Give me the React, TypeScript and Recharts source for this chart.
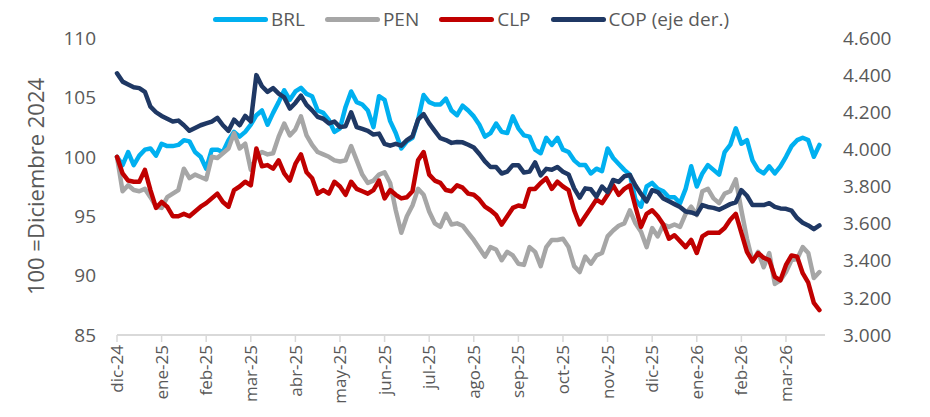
import React from "react";
import { LineChart, Line, XAxis, YAxis, Legend } from "recharts";

const months = [
  "dic-24", "ene-25", "feb-25", "mar-25", "abr-25", "may-25", "jun-25", "jul-25",
  "ago-25", "sep-25", "oct-25", "nov-25", "dic-25", "ene-26", "feb-26", "mar-26",
];

// ~8 observaciones por mes (índice 0 = inicio dic-24)
const brl = [
  100.0, 99.3, 100.4, 99.3, 100.1, 100.6, 100.7, 100.1, 101.1, 100.9, 100.9, 101.0, 101.4, 101.3, 100.4, 100.0,
  99.0, 100.6, 100.6, 100.4, 101.4, 102.1, 101.7, 102.1, 102.7, 103.5, 103.9, 102.7, 103.7, 104.6, 105.6, 104.8,
  105.5, 105.8, 105.3, 105.1, 103.9, 103.7, 103.1, 102.1, 102.4, 104.2, 105.5, 104.6, 104.4, 103.9, 102.5, 105.1,
  104.8, 103.0, 102.0, 100.7, 101.3, 101.6, 103.1, 105.2, 104.6, 104.4, 104.4, 104.9, 103.9, 103.5, 104.3, 103.9,
  103.4, 102.7, 101.7, 102.0, 102.8, 102.1, 102.0, 103.4, 102.4, 101.8, 101.7, 100.6, 100.3, 101.6, 101.0, 101.6,
  100.6, 100.4, 99.7, 99.3, 99.3, 98.6, 99.0, 98.8, 100.7, 99.9, 99.4, 98.9, 98.5, 96.4, 95.8, 97.5,
  97.8, 97.3, 97.1, 96.6, 96.6, 96.1, 97.3, 99.2, 97.5, 98.6, 99.3, 98.9, 98.5, 100.4, 101.0, 102.4,
  101.1, 101.4, 99.7, 98.9, 98.6, 99.2, 98.6, 99.2, 100.0, 100.9, 101.4, 101.6, 101.4, 100.0, 101.0,
];

const pen = [
  100.0, 97.1, 97.6, 97.2, 97.1, 97.3, 96.6, 95.8, 95.7, 96.6, 96.9, 97.2, 99.0, 98.2, 98.5, 98.3,
  98.1, 100.0, 99.9, 100.3, 100.7, 102.0, 100.7, 101.1, 98.9, 100.0, 100.4, 100.2, 100.3, 101.7, 102.8, 101.8,
  102.3, 103.4, 101.8, 101.0, 100.4, 100.2, 100.0, 99.7, 99.6, 99.7, 100.9, 99.7, 98.5, 97.8, 98.0, 98.5,
  98.7, 97.8, 95.5, 93.6, 95.0, 95.9, 97.3, 96.8, 95.4, 94.4, 94.1, 95.2, 94.3, 94.4, 94.2, 93.6,
  93.0, 92.3, 91.6, 92.4, 92.2, 91.3, 92.0, 91.7, 91.0, 90.9, 92.4, 92.0, 90.8, 92.4, 93.0, 93.0,
  93.1, 92.4, 90.8, 90.3, 91.6, 91.0, 91.7, 91.9, 93.3, 93.8, 94.2, 94.4, 95.5, 94.4, 93.7, 92.4,
  94.0, 93.3, 94.3, 94.1, 94.3, 94.1, 95.2, 95.8, 95.1, 97.1, 97.3, 96.5, 96.1, 96.9, 97.1, 98.1,
  95.5, 93.1, 91.2, 92.0, 90.7, 91.9, 89.3, 89.6, 90.3, 91.3, 91.4, 92.4, 91.9, 89.8, 90.3,
];

const clp = [
  100.0, 98.6, 98.0, 97.9, 97.9, 98.9, 97.2, 95.7, 96.2, 95.8, 95.0, 95.0, 95.2, 95.0, 95.4, 95.8,
  96.1, 96.5, 96.9, 96.2, 95.8, 97.2, 97.5, 97.9, 97.6, 100.7, 99.2, 99.3, 99.0, 99.7, 98.6, 98.0,
  99.4, 100.2, 98.7, 98.2, 96.9, 97.2, 96.9, 97.9, 97.5, 96.8, 97.9, 97.3, 97.1, 96.9, 97.2, 98.0,
  96.5, 97.2, 96.8, 96.5, 96.6, 97.1, 99.7, 100.4, 98.5, 98.0, 97.8, 97.2, 97.1, 97.6, 97.4, 96.9,
  96.8, 96.4, 95.8, 95.5, 95.1, 94.3, 95.0, 95.7, 95.9, 95.8, 97.3, 97.3, 97.8, 98.2, 97.3, 97.9,
  97.5, 97.2, 95.5, 94.3, 95.0, 95.7, 96.4, 96.1, 96.8, 97.6, 96.8, 97.3, 97.6, 95.8, 94.1, 95.2,
  95.5, 95.0, 94.3, 93.1, 93.4, 92.9, 92.4, 93.0, 91.9, 93.3, 93.6, 93.6, 93.6, 94.0, 94.7, 95.2,
  93.6, 92.0, 91.2, 91.9, 91.5, 91.3, 89.9, 89.6, 90.9, 91.7, 91.6, 90.2, 89.4, 87.7, 87.1,
];

const cop = [
  4410, 4365, 4350, 4335, 4330, 4310, 4230, 4200, 4180, 4165, 4150, 4155, 4130, 4100, 4115, 4130,
  4140, 4150, 4170, 4130, 4100, 4160, 4130, 4180, 4150, 4400, 4340, 4310, 4330, 4300, 4280, 4220,
  4250, 4290, 4240, 4210, 4175, 4165, 4140, 4150, 4120, 4125, 4200, 4120, 4110, 4100, 4080, 4085,
  4030, 4020, 4030, 4020, 4050, 4070, 4160, 4190, 4140, 4100, 4060, 4050, 4035, 4040, 4038, 4025,
  4010, 3975, 3935, 3905, 3905, 3870, 3880, 3915, 3915, 3875, 3880, 3930, 3860, 3895, 3890, 3905,
  3880, 3865, 3790, 3740, 3790, 3785, 3745, 3800, 3770, 3835, 3825, 3855, 3862, 3805, 3760, 3720,
  3780, 3770, 3735, 3720, 3705, 3690, 3665, 3660, 3650, 3700, 3690, 3685, 3675, 3690, 3705, 3715,
  3780, 3750, 3700, 3700, 3700, 3710, 3690, 3682, 3680, 3670, 3630, 3605, 3590, 3570, 3590,
];

const leftTicks = [85, 90, 95, 100, 105, 110];
const rightTicks = [3000, 3200, 3400, 3600, 3800, 4000, 4200, 4400, 4600];
const monthTicks = months.map((_, i) => i * 8);

const series = [
  { key: "brl", name: "BRL", color: "#00B0F0", axis: "left" },
  { key: "pen", name: "PEN", color: "#A6A6A6", axis: "left" },
  { key: "clp", name: "CLP", color: "#C00000", axis: "left" },
  { key: "cop", name: "COP (eje der.)", color: "#1F3864", axis: "right" },
];

const data = brl.map((v, i) => ({ t: i, brl: v, pen: pen[i], clp: clp[i], cop: cop[i] }));

const textColor = "#595959";
const axisColor = "#D9D9D9";

const fmtMiles = (v: number) => {
  const s = String(Math.round(v));
  return s.length > 3 ? s.slice(0, s.length - 3) + "." + s.slice(-3) : s;
};

const MonthTick = (props: any) => {
  const { x, y, payload } = props;
  const label = months[Math.round(payload.value / 8)];
  return (
    <text
      x={x}
      y={y}
      transform={`rotate(-90 ${x} ${y})`}
      textAnchor="end"
      dy="0.36em"
      fill={textColor}
      fontSize={17}
      fontFamily="'Open Sans', sans-serif"
    >
      {label}
    </text>
  );
};

const renderLegend = () => (
  <div
    style={{
      display: "flex",
      alignItems: "center",
      paddingLeft: 213,
      fontFamily: "'Open Sans', sans-serif",
      fontSize: 19,
      color: textColor,
      height: 28,
    }}
  >
    {series.map((s) => (
      <div key={s.key} style={{ display: "flex", alignItems: "center", marginRight: 20 }}>
        <span
          style={{
            display: "inline-block",
            width: 55,
            height: 5,
            borderRadius: 3,
            background: s.color,
            marginRight: 3,
          }}
        />
        <span>{s.name}</span>
      </div>
    ))}
  </div>
);

export default function App() {
  return (
    <div style={{ position: "absolute", left: 0, top: 0, background: "#fff" }}>
      <LineChart width={930} height={417} data={data} margin={{ top: 38, right: 0, bottom: 0, left: 0 }}>
        <Legend
          layout="horizontal"
          verticalAlign="middle"
          align="center"
          wrapperStyle={{ top: 5, left: 0, width: 930 }}
          content={renderLegend}
        />
        <XAxis
          dataKey="t"
          type="number"
          domain={[0, 127]}
          ticks={monthTicks}
          height={82}
          axisLine={{ stroke: axisColor, strokeWidth: 2 }}
          tickLine={{ stroke: axisColor, strokeWidth: 1.5 }}
          tickSize={7}
          tickMargin={3}
          tick={<MonthTick />}
        />
        <YAxis
          yAxisId="left"
          domain={[85, 110]}
          ticks={leftTicks}
          width={117}
          axisLine={false}
          tickLine={false}
          tickSize={0}
          tickMargin={21}
          tick={{ fill: textColor, fontSize: 19, fontFamily: "'Liberation Sans Narrow', 'Open Sans', sans-serif" }}
          label={{
            value: "100 =Diciembre 2024",
            angle: -90,
            position: "center",
            dx: -22,
            style: { fill: textColor, fontSize: 22, fontFamily: "'Open Sans', sans-serif", textAnchor: "middle" },
          }}
        />
        <YAxis
          yAxisId="right"
          orientation="right"
          domain={[3000, 4600]}
          ticks={rightTicks}
          width={105}
          axisLine={false}
          tickLine={false}
          tickSize={0}
          tickMargin={18}
          tickFormatter={fmtMiles}
          tick={{ fill: textColor, fontSize: 19, fontFamily: "'Open Sans', sans-serif" }}
        />
        {series.map((s) => (
          <Line
            key={s.key}
            yAxisId={s.axis}
            dataKey={s.key}
            name={s.name}
            type="linear"
            stroke={s.color}
            strokeWidth={4.5}
            strokeLinejoin="round"
            strokeLinecap="round"
            dot={false}
            activeDot={false}
            isAnimationActive={false}
          />
        ))}
      </LineChart>
    </div>
  );
}
